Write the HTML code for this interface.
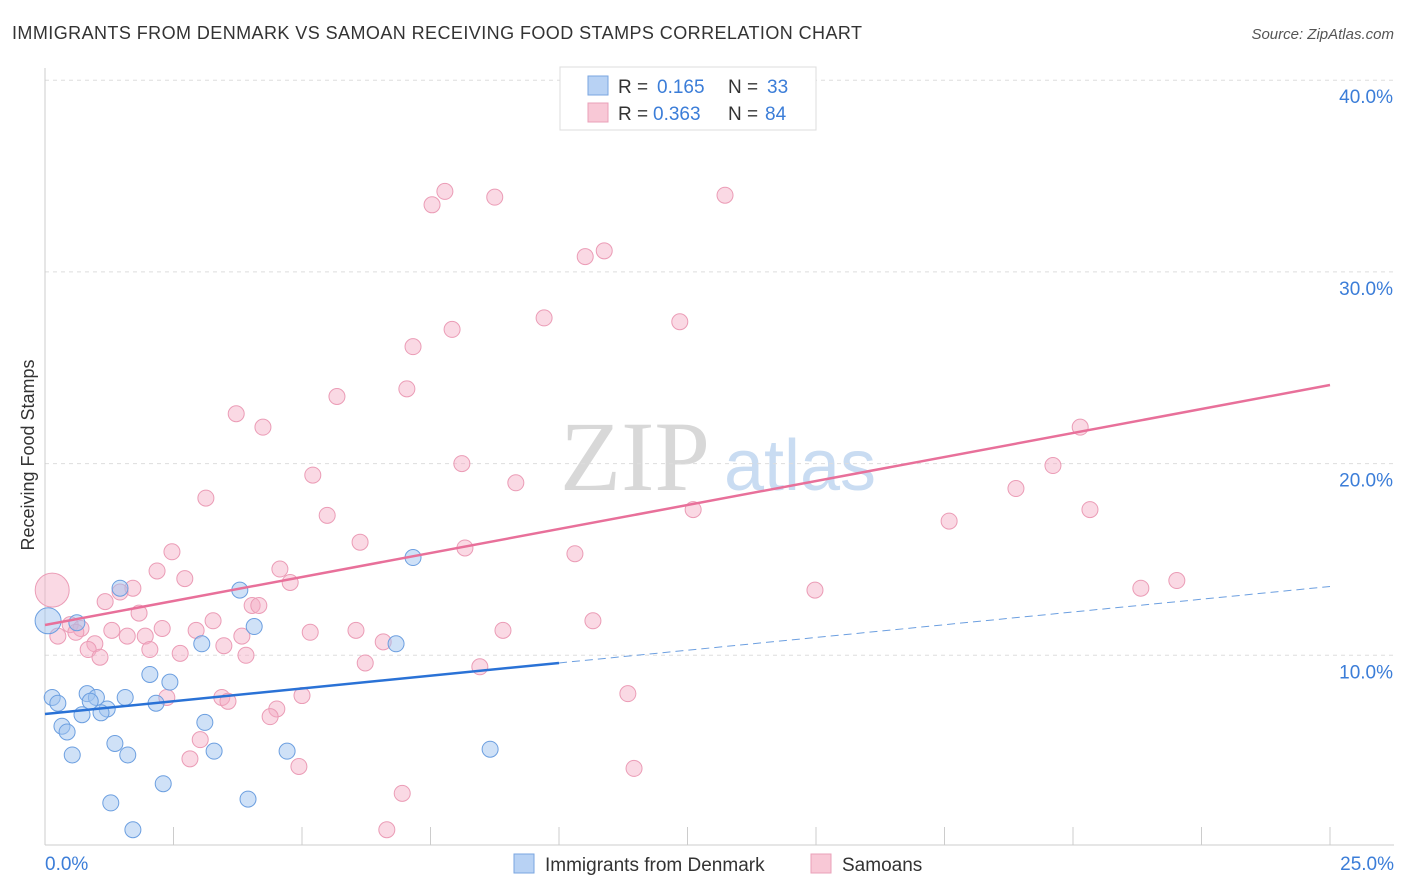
<!DOCTYPE html>
<html><head><meta charset="utf-8"><style>
body{margin:0;background:#fff;font-family:"Liberation Sans",sans-serif}
svg{display:block}
</style></head><body>
<svg id="c" width="1406" height="892">
<text x="12" y="39" font-size="18" fill="#333" textLength="850">IMMIGRANTS FROM DENMARK VS SAMOAN RECEIVING FOOD STAMPS CORRELATION CHART</text>
<text x="1394" y="39" font-size="15" fill="#555" font-style="italic" text-anchor="end">Source: ZipAtlas.com</text>
<text x="34" y="455" font-size="18" fill="#333" text-anchor="middle" transform="rotate(-90 34 455)">Receiving Food Stamps</text>
<g><text x="635" y="490" font-size="100" fill="#d8d8d8" font-family="Liberation Serif,serif" text-anchor="middle">ZIP</text><text x="800" y="490" font-size="72" fill="#c9dcf2" text-anchor="middle">atlas</text></g>
<g id="grid"></g><g id="pts"></g><g id="lines"></g>
<g>
<rect x="560" y="67" width="256" height="63" fill="#fff" stroke="#ddd"/>
<rect x="588" y="76" width="20" height="19" fill="#b8d2f4" stroke="#7aa6e0"/>
<rect x="588" y="103" width="20" height="19" fill="#f8c8d6" stroke="#eaa0b8"/>
<text x="618" y="93" font-size="19" fill="#333">R = <tspan x="657" fill="#3b7dd8">0.165</tspan><tspan x="728">N = </tspan><tspan x="767" fill="#3b7dd8">33</tspan></text>
<text x="618" y="120" font-size="19" fill="#333">R = <tspan x="653" fill="#3b7dd8">0.363</tspan><tspan x="728">N = </tspan><tspan x="765" fill="#3b7dd8">84</tspan></text>
</g>
<g>
<rect x="514" y="854" width="20" height="19" fill="#b8d2f4" stroke="#7aa6e0"/>
<text x="545" y="871" font-size="19" fill="#333">Immigrants from Denmark</text>
<rect x="811" y="854" width="20" height="19" fill="#f8c8d6" stroke="#eaa0b8"/>
<text x="842" y="871" font-size="19" fill="#333">Samoans</text>
</g>
</svg>
<script>
const yTicks=[10,20,30,40];
const xTickLabels=["0.0%","25.0%"];
const blueX=[0.06,0.14,0.25,0.62,0.82,1.0,0.88,1.21,0.72,1.09,0.33,0.43,0.53,1.56,1.36,1.61,2.04,2.43,2.16,1.28,2.30,1.71,1.46,3.79,4.07,3.05,3.11,3.29,3.95,4.71,6.83,7.16,8.66];
const blueY=[11.8,7.8,7.5,11.7,8.0,7.8,7.6,7.2,6.9,7.0,6.3,6.0,4.8,7.8,5.4,4.8,9.0,8.6,7.5,2.3,3.3,0.9,13.5,13.4,11.5,10.6,6.5,5.0,2.5,5.0,10.6,15.1,5.1];
const pinkX=[7.78,7.53,8.75,13.23,10.88,10.51,9.71,12.35,7.92,7.16,7.04,5.68,3.72,4.24,20.14,8.11,19.61,5.21,9.16,18.89,3.13,20.33,12.61,5.49,17.59,6.13,8.17,2.47,10.31,2.18,4.57,2.72,4.77,22.02,21.32,14.98,1.71,1.46,0.14,1.17,4.03,4.16,1.83,3.27,10.66,0.49,0.70,2.28,1.30,2.94,5.16,6.05,8.91,0.60,1.60,1.95,3.83,0.25,6.58,0.97,3.48,2.04,0.84,2.63,3.91,1.07,6.23,8.46,5.00,11.34,3.44,2.37,3.56,4.51,4.38,3.02,2.82,4.94,11.46,6.95,6.65];
const pinkY=[34.2,33.5,33.9,34.0,31.1,30.8,27.6,27.4,27.0,26.1,23.9,23.5,22.6,21.9,21.9,20.0,19.9,19.4,19.0,18.7,18.2,17.6,17.6,17.3,17.0,15.9,15.6,15.4,15.3,14.4,14.5,14.0,13.8,13.9,13.5,13.4,13.5,13.3,13.4,12.8,12.6,12.6,12.2,11.8,11.8,11.6,11.4,11.4,11.3,11.3,11.2,11.3,11.3,11.2,11.0,11.0,11.0,11.0,10.7,10.6,10.5,10.3,10.3,10.1,10.0,9.9,9.6,9.4,7.9,8.0,7.8,7.8,7.6,7.2,6.8,5.6,4.6,4.2,4.1,2.8,0.9];
const blueLine=[6.94,9.6,13.59];
const pinkLine=[11.58,24.1];
const NS="http://www.w3.org/2000/svg";
const X=v=>45+v*51.4, Y=v=>847-v*19.17;
function mk(p,t,a){const e=document.createElementNS(NS,t);for(const k in a)e.setAttribute(k,a[k]);p.appendChild(e);return e;}
const g=document.getElementById('grid');
yTicks.forEach(t=>{
 const l=mk(g,'line',{x1:45,x2:1394,y1:Y(t),y2:Y(t),stroke:'#ddd','stroke-dasharray':'4,4'});
 
 
 const tx=mk(g,'text',{x:1393,y:Y(t)+23,'font-size':19,fill:'#3b7dd8','text-anchor':'end'});tx.textContent=t.toFixed(1)+'%';
 
 
});
mk(g,'line',{x1:45,x2:45,y1:68,y2:845,stroke:'#ccc'});
mk(g,'line',{x1:45,x2:1394,y1:845,y2:845,stroke:'#ccc'});
for(let i=0;i<=10;i++){mk(g,'line',{x1:X(i*2.5),x2:X(i*2.5),y1:827,y2:845,stroke:'#ccc'});}
const t0=mk(g,'text',{x:45,y:870,'font-size':19,fill:'#3b7dd8'});t0.textContent=xTickLabels[0];


const t1=mk(g,'text',{x:1394,y:870,'font-size':19,fill:'#3b7dd8','text-anchor':'end'});t1.textContent=xTickLabels[1];


const p=document.getElementById('pts');
pinkX.forEach((x,i)=>{const c=mk(p,'circle',{cx:X(x),cy:Y(pinkY[i]),r:i==38?17:8,fill:'rgba(244,170,195,0.45)',stroke:'#eb9cb6','stroke-width':1});
 
 });
blueX.forEach((x,i)=>{const c=mk(p,'circle',{cx:X(x),cy:Y(blueY[i]),r:i==0?13:8,fill:'rgba(160,196,240,0.5)',stroke:'#6c9fe0','stroke-width':1});
 
 });
const L=document.getElementById('lines');
const b1=mk(L,'line',{x1:X(0),y1:Y(blueLine[0]),x2:X(10),y2:Y(blueLine[1]),stroke:'#2a72d6','stroke-width':2.5});


const b2=mk(L,'line',{x1:X(10),y1:Y(blueLine[1]),x2:X(25),y2:Y(blueLine[2]),stroke:'#6c9fe0','stroke-width':1,'stroke-dasharray':'8,5'});


const pl=mk(L,'line',{x1:X(0),y1:Y(pinkLine[0]),x2:X(25),y2:Y(pinkLine[1]),stroke:'#e8709a','stroke-width':2.5});


</script>
</body></html>
